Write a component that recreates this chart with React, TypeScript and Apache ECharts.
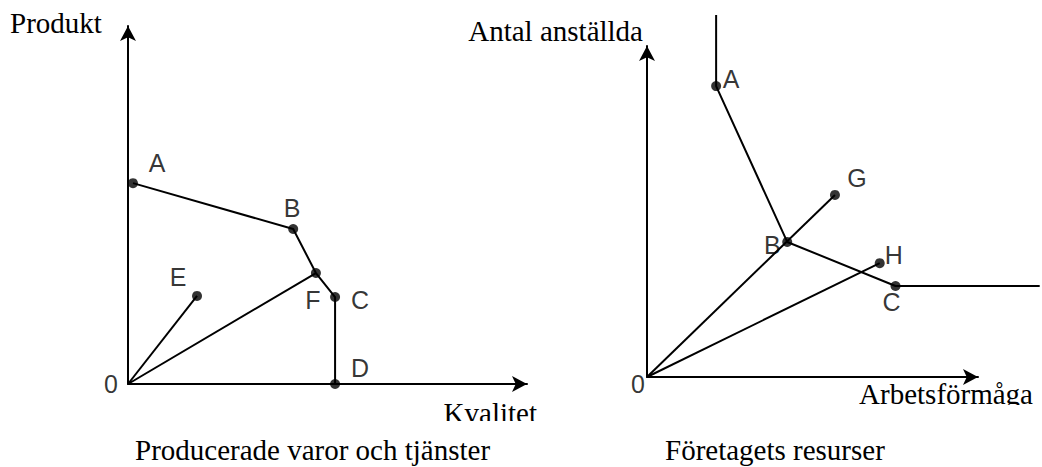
import React, { useEffect, useRef } from "react";
import * as echarts from "echarts";

// ---------- Data: left panel "Producerade varor och tjänster" ----------
const leftPointNames = ["A", "B", "F", "C", "D", "E"];
const leftPointX = [1.25, 41.4, 47.1, 51.9, 51.9, 17.3];
const leftPointY = [56.1, 43.3, 31.0, 24.3, 0, 24.6];
const leftFrontier = ["A", "B", "F", "C", "D"];
const leftRays = ["E", "F"];

// ---------- Data: right panel "Företagets resurser" ----------
const rightPointNames = ["A", "B", "C", "G", "H"];
const rightPointX = [21, 42.6, 75.5, 57.1, 70.7];
const rightPointY = [87.9, 40.8, 27.5, 55.0, 34.4];
const rightFrontierStart = [21, 109.4];
const rightFrontierEnd = [119.3, 27.5];
const rightFrontier = ["A", "B", "C"];
const rightRays = ["G", "H"];

// label placement (style only)
const leftLabelOffset: Record<string, number[]> = {
  A: [24, -20], B: [-1, -21], F: [-3, 27], C: [25, 3], D: [25, -16], E: [-19, -19],
};
const rightLabelOffset: Record<string, number[]> = {
  A: [15, -7], B: [-15, 3], C: [-4, 16], G: [22, -17], H: [14, -8],
};

const SANS = "Liberation Sans";
const SERIF = "Liberation Serif";

function pt(names: string[], xs: number[], ys: number[], n: string) {
  const i = names.indexOf(n);
  return [xs[i], ys[i]];
}

function axis(grid: number, max: number, showLine: boolean) {
  return {
    gridIndex: grid,
    type: "value" as const,
    min: 0,
    max,
    axisLine: {
      show: showLine,
      symbol: ["none", "arrow"],
      symbolSize: [12, 15],
      lineStyle: { color: "#000", width: 2 },
    },
    axisTick: { show: false },
    axisLabel: { show: false },
    splitLine: { show: false },
  };
}

export default function App() {
  const ref = useRef<HTMLDivElement>(null);
  useEffect(() => {
    if (!ref.current) return;
    const chart = echarts.init(ref.current, undefined, { renderer: "svg" });
    const lineStyle = { color: "#000", width: 2 };
    const labelStyle = { fontFamily: SANS, fontSize: 25, color: "#000" };

    const lp = (n: string) => pt(leftPointNames, leftPointX, leftPointY, n);
    const rp = (n: string) => pt(rightPointNames, rightPointX, rightPointY, n);

    const lineSeries = (data: number[][], idx: number) => ({
      type: "line",
      xAxisIndex: idx,
      yAxisIndex: idx,
      data,
      symbol: "none",
      clip: false,
      lineStyle,
      silent: true,
    });

    const series: any[] = [
      lineSeries(leftFrontier.map(lp), 0),
      ...leftRays.map((n) => lineSeries([[0, 0], lp(n)], 0)),
      lineSeries([rightFrontierStart, ...rightFrontier.map(rp), rightFrontierEnd], 1),
      ...rightRays.map((n) => lineSeries([[0, 0], rp(n)], 1)),
      {
        type: "scatter",
        xAxisIndex: 0,
        yAxisIndex: 0,
        symbolSize: 10,
        itemStyle: { color: "#000" },
        clip: false,
        data: leftPointNames.map((n, i) => ({
          name: n,
          value: [leftPointX[i], leftPointY[i]],
          label: { show: true, position: "inside", formatter: "{b}", offset: leftLabelOffset[n], ...labelStyle },
        })),
      },
      {
        type: "scatter",
        xAxisIndex: 1,
        yAxisIndex: 1,
        symbolSize: 10,
        itemStyle: { color: "#000" },
        clip: false,
        data: rightPointNames.map((n, i) => ({
          name: n,
          value: [rightPointX[i], rightPointY[i]],
          label: { show: true, position: "inside", formatter: "{b}", offset: rightLabelOffset[n], ...labelStyle },
        })),
      },
      {
        type: "scatter",
        xAxisIndex: 0,
        yAxisIndex: 0,
        symbolSize: 0,
        clip: false,
        data: [{ name: "0", value: [0, 0], label: { show: true, position: "inside", formatter: "{b}", offset: [-17, 0], ...labelStyle } }],
      },
      {
        type: "scatter",
        xAxisIndex: 1,
        yAxisIndex: 1,
        symbolSize: 0,
        clip: false,
        data: [{ name: "0", value: [0, 0], label: { show: true, position: "inside", formatter: "{b}", offset: [-9, 7], ...labelStyle } }],
      },
    ];

    const serifText = (text: string, x: number, y: number, align: string) => ({
      type: "text",
      x,
      y,
      style: { text, fontFamily: SERIF, fontSize: 29, fill: "#000", align, verticalAlign: "middle" },
      z: 10,
    });

    chart.setOption({
      animation: false,
      backgroundColor: "#fff",
      grid: [
        { left: 128, top: 26, width: 399, height: 358, containLabel: false },
        // right panel data grid: 3.31 px per unit, extends to the page edge
        { left: 647, top: 46, width: 397.2, height: 331, containLabel: false },
        // right panel visible x axis (0..100) with arrow
        { left: 647, top: 46, width: 331, height: 331, containLabel: false },
      ],
      xAxis: [axis(0, 100, true), axis(1, 120, false), axis(2, 100, true)],
      yAxis: [axis(0, 100, true), axis(1, 100, true), axis(2, 100, false)],
      series,
      graphic: [
        serifText("Produkt", 10, 22.5, "left"),
        serifText("Kvalitet", 537, 412.5, "right"),
        serifText("Antal anställda", 643, 31, "right"),
        serifText("Arbetsförmåga", 1033, 393.5, "right"),
        serifText("Producerade varor och tjänster", 135, 450, "left"),
        serifText("Företagets resurser", 665, 450, "left"),
        { type: "rect", shape: { x: 430, y: 421, width: 115, height: 12 }, style: { fill: "#fff" }, z: 20 },
        { type: "rect", shape: { x: 850, y: 405, width: 192, height: 14 }, style: { fill: "#fff" }, z: 20 },
      ],
    });
    return () => chart.dispose();
  }, []);
  return <div ref={ref} style={{ position: "fixed", left: 0, top: 0, width: 1042, height: 467 }} />;
}
